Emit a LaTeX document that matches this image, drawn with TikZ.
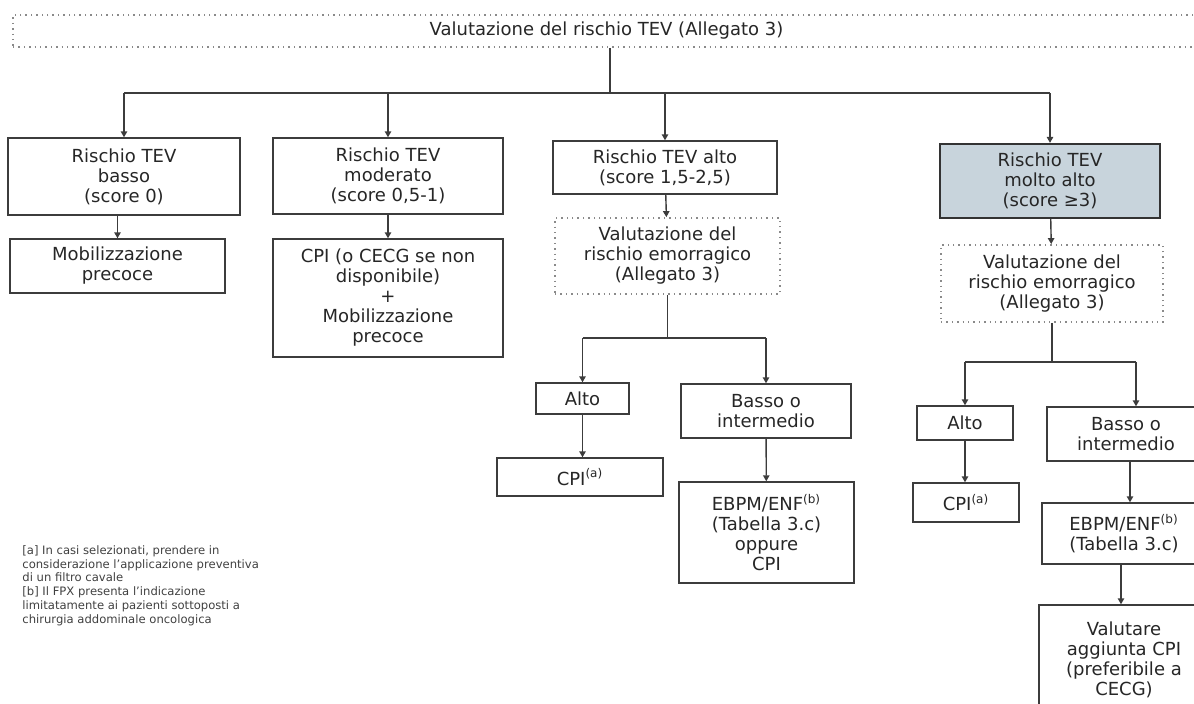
\documentclass[tikz,border=0pt]{standalone}
\usepackage{fontspec}
\setmainfont{DejaVu Sans}
\usetikzlibrary{arrows.meta}
\definecolor{linec}{HTML}{3C3C3C}
\definecolor{dotc}{HTML}{8A8A8A}
\definecolor{hifill}{HTML}{C8D4DC}
\begin{document}
\begin{tikzpicture}[x=0.5pt,y=-0.5pt,
    box/.style={draw=linec,line width=.7pt,align=center,inner sep=0pt,
        font=\fontsize{9}{10}\selectfont,text=black!85},
    dotbox/.style={box,draw=dotc,dotted,line width=.9pt},
    hibox/.style={box,fill=hifill,line width=1.1pt,draw=black!80},
    ln/.style={draw=linec,line width=.7pt},
    arr/.style={ln,-{Triangle[length=3pt,width=3.2pt]}},
    note/.style={align=left,inner sep=0pt,text=black!75,
        font=\fontsize{5.8}{6.9}\selectfont}]
    \useasboundingbox (0,0) rectangle (1194,703);

    % the title
    \node[dotbox,minimum width=593.5pt,minimum height=16pt] (top) at (606.5,31)
        {Valutazione del rischio TEV (Allegato 3)};

    % the four risk levels
    \node[box,minimum width=116pt,minimum height=38.5pt] (lowrisk) at (124,176.5)
        {Rischio TEV\\basso\\(score 0)};
    \node[box,minimum width=115pt,minimum height=38pt] (modrisk) at (388,176)
        {Rischio TEV\\moderato\\(score 0,5-1)};
    \node[box,minimum width=112pt,minimum height=26.5pt] (highrisk) at (665,167.5)
        {Rischio TEV alto\\(score 1,5-2,5)};
    \node[hibox,minimum width=110pt,minimum height=37pt] (vhighrisk) at (1050,181)
        {Rischio TEV\\molto alto\\(score ≥3)};

    % low and moderate
    \node[box,minimum width=107.5pt,minimum height=27pt] (mobil) at (117.5,266)
        {Mobilizzazione\\precoce};
    \node[box,minimum width=115pt,minimum height=59pt] (cpimod) at (388,298)
        {CPI (o CECG se non\\disponibile)\\+\\Mobilizzazione\\precoce};

    % high
    \node[dotbox,minimum width=112.5pt,minimum height=38pt] (bleedhigh) at (667.5,256)
        {Valutazione del\\rischio emorragico\\(Allegato 3)};
    \node[box,minimum width=46.5pt,minimum height=15.5pt] (altohigh) at (582.5,398.5)
        {Alto};
    \node[box,minimum width=85pt,minimum height=27pt] (bassohigh) at (766,411)
        {Basso o\\intermedio};
    \node[box,minimum width=83pt,minimum height=19pt] (cpihigh) at (580,477)
        {CPI\textsuperscript{(a)}};
    \node[box,minimum width=87.5pt,minimum height=50.5pt] (ebpmhigh) at (766.5,532.5)
        {EBPM/ENF\textsuperscript{(b)}\\(Tabella 3.c)\\oppure\\CPI};

    % very high
    \node[dotbox,minimum width=111pt,minimum height=38.5pt] (bleedvh) at (1052,283.5)
        {Valutazione del\\rischio emorragico\\(Allegato 3)};
    \node[box,minimum width=48pt,minimum height=17pt] (altovh) at (965,423)
        {Alto};
    \node[box,minimum width=79pt,minimum height=27pt] (bassovh) at (1126,434)
        {Basso o\\intermedio};
    \node[box,minimum width=53pt,minimum height=19.5pt] (cpivh) at (966,502.5)
        {CPI\textsuperscript{(a)}};
    \node[box,minimum width=82pt,minimum height=30.5pt] (ebpmvh) at (1124,533.5)
        {EBPM/ENF\textsuperscript{(b)}\\(Tabella 3.c)};
    \node[box,minimum width=85pt,minimum height=55pt] (addcpi) at (1124,660)
        {Valutare\\aggiunta CPI\\(preferibile a\\CECG)};

    % the notes
    \node[note,anchor=north west] (notes) at (22,545)
        {{[a]} In casi selezionati, prendere in\\
         considerazione l'applicazione preventiva\\
         di un filtro cavale\\
         {[b]} Il FPX presenta l'indicazione\\
         limitatamente ai pazienti sottoposti a\\
         chirurgia addominale oncologica};

    % the connectors
    \coordinate (bus) at (610,93);
    \coordinate (bushigh) at (667,338);
    \coordinate (busvh) at (1052,362);

    \draw[ln] (top.south -| bus) -- (bus);
    \draw[ln] (lowrisk.north |- bus) -- (vhighrisk.north |- bus);
    \foreach \n in {lowrisk,modrisk,highrisk,vhighrisk}
        \draw[arr] (\n.north |- bus) -- (\n.north);

    \draw[arr] (mobil.north |- lowrisk.south) -- (mobil.north);
    \draw[arr] (modrisk) -- (cpimod);
    \draw[arr] (highrisk) -- (bleedhigh);
    \draw[arr] (vhighrisk) -- (bleedvh);

    \draw[ln] (bleedhigh.south) -- (bleedhigh.south |- bushigh);
    \draw[ln] (altohigh.north |- bushigh) -- (bassohigh.north |- bushigh);
    \draw[arr] (altohigh.north |- bushigh) -- (altohigh.north);
    \draw[arr] (bassohigh.north |- bushigh) -- (bassohigh.north);
    \draw[arr] (altohigh) -- (altohigh.south |- cpihigh.north);
    \draw[arr] (bassohigh) -- (ebpmhigh);

    \draw[ln] (bleedvh.south) -- (bleedvh.south |- busvh);
    \draw[ln] (altovh.north |- busvh) -- ([xshift=5pt]bassovh.north |- busvh);
    \draw[arr] (altovh.north |- busvh) -- (altovh.north);
    \draw[arr] ([xshift=5pt]bassovh.north |- busvh) -- ([xshift=5pt]bassovh.north);
    \draw[arr] (altovh) -- (altovh.south |- cpivh.north);
    \draw[arr] ([xshift=2pt]bassovh.south) -- ([xshift=2pt]bassovh.south |- ebpmvh.north);
    \draw[arr] ([xshift=-1.5pt]ebpmvh.south) -- ([xshift=-1.5pt]ebpmvh.south |- addcpi.north);
\end{tikzpicture}
\end{document}
